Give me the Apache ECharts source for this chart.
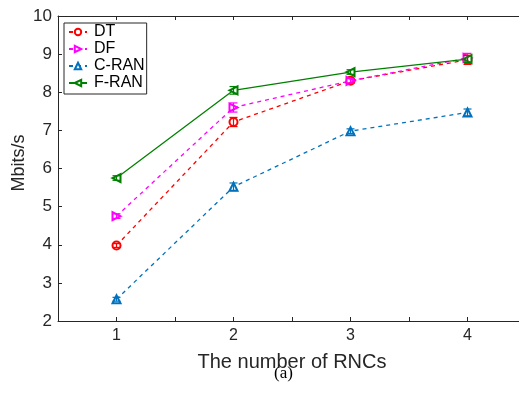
<!DOCTYPE html>
<html><head><meta charset="utf-8">
<script src="https://cdn.jsdelivr.net/npm/echarts@6/dist/echarts.min.js"></script>
<style>html,body{margin:0;padding:0;background:#fff}#c{width:519px;height:397px}</style>
</head><body><div id="c"></div>
<script>
var rncs = [1, 2, 3, 4];
var seriesNames = ['DT', 'DF', 'C-RAN', 'F-RAN'];
var dtVals = [3.98, 7.22, 8.30, 8.85];
var dfVals = [4.75, 7.60, 8.30, 8.90];
var cranVals = [2.57, 5.52, 6.98, 7.47];
var franVals = [5.75, 8.05, 8.53, 8.87];
var dtErr = [0.05, 0.12, 0.06, 0.12];
var dfErr = [0.06, 0.12, 0.06, 0.12];
var cranErr = [0.05, 0.10, 0.06, 0.09];
var franErr = [0.06, 0.10, 0.06, 0.09];
var yTicks = [2, 3, 4, 5, 6, 7, 8, 9, 10];
var yTitle = 'Mbits/s';
var xTitle = 'The number of RNCs';

var colors = ['#ff0000', '#ff00ff', '#0072bd', '#008000'];
var symbols = ['emptyCircle', 'emptyTriangle', 'emptyTriangle', 'emptyTriangle'];
var rotates = [0, -90, 0, 90];
var lineTypes = [[4, 4], [4, 4], [4, 4], 'solid'];
var vals = [dtVals, dfVals, cranVals, franVals];
var errs = [dtErr, dfErr, cranErr, franErr];

var series = [];
for (var s = 0; s < 4; s++) {
  (function(s){
    series.push({
      name: seriesNames[s], type: 'line',
      data: rncs.map(function(x, i){ return [x, vals[s][i]]; }),
      symbol: symbols[s], symbolSize: 8, symbolRotate: rotates[s],
      showAllSymbol: true,
      lineStyle: {color: colors[s], width: 1.3, type: lineTypes[s]},
      itemStyle: {color: colors[s], borderColor: colors[s], borderWidth: 1.2},
      z: 3
    });
    series.push({
      name: seriesNames[s] + '_err', type: 'custom',
      data: rncs.map(function(x, i){ return [x, vals[s][i] - errs[s][i], vals[s][i] + errs[s][i]]; }),
      renderItem: function(params, api){
        var lo = api.coord([api.value(0), api.value(1)]);
        var hi = api.coord([api.value(0), api.value(2)]);
        var w = 4;
        var st = {stroke: colors[s], lineWidth: 1.2};
        return {type: 'group', children: [
          {type: 'line', shape: {x1: lo[0], y1: lo[1], x2: hi[0], y2: hi[1]}, style: st},
          {type: 'line', shape: {x1: lo[0]-w, y1: lo[1], x2: lo[0]+w, y2: lo[1]}, style: st},
          {type: 'line', shape: {x1: hi[0]-w, y1: hi[1], x2: hi[0]+w, y2: hi[1]}, style: st}
        ]};
      },
      z: 4, silent: true
    });
  })(s);
}

var axisCol = '#262626';
var chart = echarts.init(document.getElementById('c'), null, {renderer: 'canvas'});
chart.setOption({
  animation: false,
  backgroundColor: '#fff',
  grid: {left: 58, top: 16, width: 468, height: 305, containLabel: false, outerBoundsMode: 'none'},
  legend: {
    data: seriesNames,
    orient: 'vertical', left: 64, top: 23,
    itemWidth: 18, itemHeight: 8, itemGap: 1,
    padding: [1, 2, 3, 4],
    borderColor: axisCol, borderWidth: 1, backgroundColor: '#fff',
    textStyle: {fontFamily: 'Liberation Sans', fontSize: 16, color: '#000', padding: [0,0,0,2]}
  },
  xAxis: [{
    type: 'value', min: 0.5, max: 4.5, interval: 0.5,
    axisLine: {show: true, lineStyle: {color: axisCol, width: 1}},
    axisTick: {show: true, inside: true, length: 4, lineStyle: {color: axisCol}},
    axisLabel: {fontFamily: 'Liberation Sans', fontSize: 16, color: '#262626', margin: 7,
      formatter: function(v){ return Math.abs(v - Math.round(v)) < 1e-6 ? String(Math.round(v)) : ''; }},
    splitLine: {show: false},
    name: xTitle, nameLocation: 'middle', nameGap: 31,
    nameTextStyle: {fontFamily: 'Liberation Sans', fontSize: 20, color: '#262626'}
  }, {
    type: 'value', position: 'top', min: 0.5, max: 4.5, interval: 0.5,
    axisLine: {show: true, onZero: false, lineStyle: {color: axisCol, width: 1}},
    axisTick: {show: true, inside: true, length: 4, lineStyle: {color: axisCol}},
    axisLabel: {show: false}, splitLine: {show: false}
  }],
  yAxis: [{
    type: 'value', min: 2, max: 10, interval: 1,
    axisLine: {show: true, lineStyle: {color: axisCol, width: 1}},
    axisTick: {show: true, inside: true, length: 4, lineStyle: {color: axisCol}},
    axisLabel: {fontFamily: 'Liberation Sans', fontSize: 17, color: '#262626', margin: 6,
      formatter: function(v){ return yTicks.indexOf(v) >= 0 ? String(v) : ''; }},
    splitLine: {show: false}
  }],
  graphic: [{
    type: 'text', x: 19, y: 163, rotation: Math.PI / 2,
    style: {text: yTitle, font: '18px "Liberation Sans"', fill: '#262626', textAlign: 'center', textVerticalAlign: 'middle'}
  }, {
    type: 'text', left: 274, top: 365,
    style: {text: '(a)', font: '17px "Liberation Serif"', fill: '#000'}
  }],
  series: series
});
</script></body></html>
